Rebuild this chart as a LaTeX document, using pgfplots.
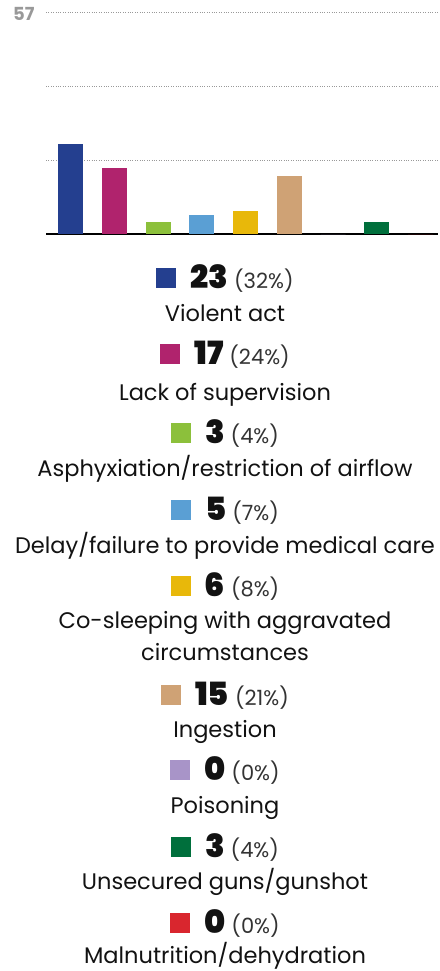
\documentclass[border=0pt]{standalone}
\usepackage{fontspec}
\setmainfont{Poppins}
\newfontfamily\blackfont{Poppins Black}
\usepackage{pgfplots}
\pgfplotsset{compat=1.18}

\definecolor{cViolent}{HTML}{243F8F}
\definecolor{cLack}{HTML}{B0236D}
\definecolor{cAsph}{HTML}{8CC03B}
\definecolor{cDelay}{HTML}{5A9FD4}
\definecolor{cCosleep}{HTML}{E8B80A}
\definecolor{cIngest}{HTML}{CFA275}
\definecolor{cPoison}{HTML}{A894C8}
\definecolor{cGuns}{HTML}{006F3C}
\definecolor{cMalnut}{HTML}{D9262E}
\definecolor{pctgray}{HTML}{333333}
\definecolor{tickgray}{HTML}{999999}

% one legend row: colour, count, percent
\newcommand{\row}[3]{\textcolor{#1}{\rule{20pt}{20pt}}\hspace{14pt}{\blackfont\fontsize{32}{32}\selectfont #2}\hspace{6pt}{\fontsize{21}{21}\selectfont\color{pctgray}(#3\%)}}

\begin{document}
\begin{tikzpicture}[x=1pt,y=1pt]
\useasboundingbox (0,0) rectangle (439,-971);

\begin{axis}[
  scale only axis, width=392pt, height=222pt,
  at={(46pt,-234pt)}, anchor=south west,
  xmin=-0.56, xmax=8.4, ymin=0, ymax=57,
  axis x line=bottom, axis y line=left,
  x axis line style={-, line width=2pt, black},
  y axis line style={draw=none},
  xtick=\empty, ytick={19,38,57}, yticklabels={,,57},
  major tick length=0pt,
  ymajorgrids, grid style={tickgray, dotted, line width=0.9pt},
  y tick label style={font=\bfseries\fontsize{18}{18}\selectfont, text=tickgray, anchor=east, xshift=-8pt, yshift=-2pt},
  clip=false,
]
\addplot[ybar, bar width=25pt, fill=cViolent, draw=none] coordinates {(0,23)};
\addplot[ybar, bar width=25pt, fill=cLack, draw=none] coordinates {(1,17)};
\addplot[ybar, bar width=25pt, fill=cAsph, draw=none] coordinates {(2,3)};
\addplot[ybar, bar width=25pt, fill=cDelay, draw=none] coordinates {(3,5)};
\addplot[ybar, bar width=25pt, fill=cCosleep, draw=none] coordinates {(4,6)};
\addplot[ybar, bar width=25pt, fill=cIngest, draw=none] coordinates {(5,15)};
\addplot[ybar, bar width=25pt, fill=cPoison, draw=none] coordinates {(6,0)};
\addplot[ybar, bar width=25pt, fill=cGuns, draw=none] coordinates {(7,3)};
\addplot[ybar, bar width=25pt, fill=cMalnut, draw=none] coordinates {(8,0)};
\end{axis}

\begin{scope}[every node/.style={anchor=base, inner sep=0pt, text=black!93, font=\fontsize{22.5}{22.5}\selectfont}]
\node at (225,-288) {\row{cViolent}{23}{32}};
\node at (225,-321) {Violent act};
\node at (225,-364) {\row{cLack}{17}{24}};
\node at (225,-400) {Lack of supervision};
\node at (225,-443) {\row{cAsph}{3}{4}};
\node at (225,-476) {Asphyxiation/restriction of airflow};
\node at (225,-520) {\row{cDelay}{5}{7}};
\node at (225,-553) {Delay/failure to provide medical care};
\node at (225,-596) {\row{cCosleep}{6}{8}};
\node at (225,-628) {Co-sleeping with aggravated};
\node at (225,-660) {circumstances};
\node at (225,-705) {\row{cIngest}{15}{21}};
\node at (225,-737) {Ingestion};
\node at (225,-780) {\row{cPoison}{0}{0}};
\node at (225,-813) {Poisoning};
\node at (225,-857) {\row{cGuns}{3}{4}};
\node at (225,-889) {Unsecured guns/gunshot};
\node at (225,-933) {\row{cMalnut}{0}{0}};
\node at (225,-963) {Malnutrition/dehydration};
\end{scope}
\end{tikzpicture}
\end{document}
